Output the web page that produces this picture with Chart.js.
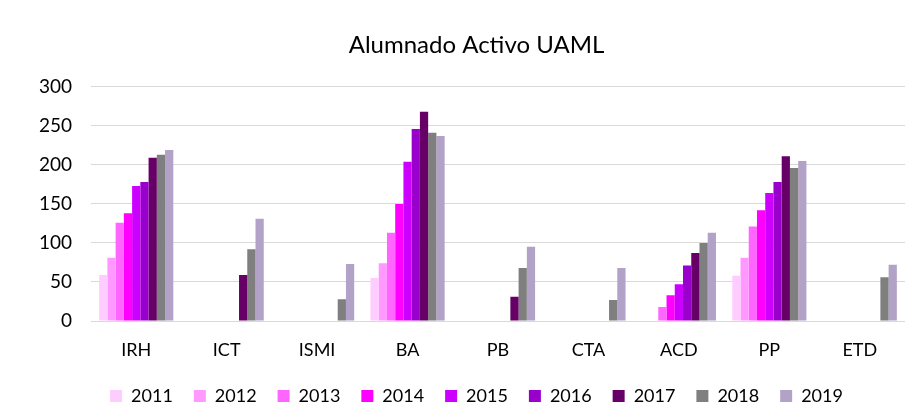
<!DOCTYPE html>
<html>
<head>
<meta charset="utf-8">
<script src="https://cdn.jsdelivr.net/npm/chart.js@4"></script>
<style>
  html, body { margin: 0; padding: 0; background: #fff; }
  #wrap { width: 905px; height: 408px; }
</style>
</head>
<body>
<div id="wrap"><canvas id="chart" width="905" height="408"></canvas></div>
<script>
// categories (programs) and years
var categories = ['IRH', 'ICT', 'ISMI', 'BA', 'PB', 'CTA', 'ACD', 'PP', 'ETD']
var years = ['2011', '2012', '2013', '2014', '2015', '2016', '2017', '2018', '2019']

// one array per year, values per category (null = no bar)
var y2011 = [59, null, null, 55, null, null, null, 58, null]
var y2012 = [81, null, null, 74, null, null, null, 81, null]
var y2013 = [126, null, null, 113, null, null, 18, 121, null]
var y2014 = [138, null, null, 150, null, null, 33, 142, null]
var y2015 = [173, null, null, 204, null, null, 47, 164, null]
var y2016 = [178, null, null, 246, null, null, 71, 178, null]
var y2017 = [209, 59, null, 268, 31, null, 87, 211, null]
var y2018 = [213, 92, 28, 241, 68, 27, 100, 196, 56]
var y2019 = [219, 131, 73, 237, 95, 68, 113, 205, 72]

var yTicks = [0, 50, 100, 150, 200, 250, 300]

var seriesValues = [y2011, y2012, y2013, y2014, y2015, y2016, y2017, y2018, y2019]
var colors = ['#ffccff', '#ff99ff', '#ff66ff', '#ff00ff', '#cc00ff', '#9900cc', '#660066', '#7f7f7f', '#b3a2c7']

var FONT = 'Lato, "DejaVu Sans", sans-serif'

var datasets = []
for (var i = 0; i < years.length; i++) {
    datasets.push({
        label: years[i],
        data: seriesValues[i],
        backgroundColor: colors[i],
        borderWidth: 0,
        categoryPercentage: 0.82,
        barPercentage: 1.0
    })
}

var ctx = document.getElementById('chart').getContext('2d')
new Chart(ctx, {
    type: 'bar',
    data: { labels: categories, datasets: datasets },
    options: {
        responsive: false,
        animation: false,
        // title and legend sit a bit right of the canvas centre in the original,
        // so the layout box runs past the right edge and an empty axis takes it back
        layout: { padding: { top: 0, right: -48, left: 0, bottom: -7 } },
        plugins: {
            title: {
                display: true,
                text: 'Alumnado Activo UAML',
                color: '#000',
                font: { family: FONT, size: 24, weight: 'normal' },
                padding: { top: 31, bottom: 27 }
            },
            legend: {
                position: 'bottom',
                labels: {
                    color: '#000',
                    font: { family: FONT, size: 18 },
                    boxWidth: 12,
                    boxHeight: 12,
                    padding: 21
                }
            },
            tooltip: { enabled: false }
        },
        scales: {
            x: {
                grid: { display: false, drawTicks: false },
                border: { color: '#d9d9d9' },
                afterFit: function(axis) { axis.height = 45 },
                ticks: { color: '#000', font: { family: FONT, size: 18 }, padding: 18 }
            },
            y: {
                min: 0,
                max: 300,
                afterBuildTicks: function(axis) {
                    axis.ticks = yTicks.map(function(v) { return { value: v } })
                },
                afterFit: function(axis) { axis.width = 91 },
                grid: { color: '#d9d9d9', drawTicks: false },
                border: { display: false },
                ticks: { color: '#000', font: { family: FONT, size: 19 }, padding: 19 }
            },
            yPad: {
                position: 'right',
                min: 0,
                max: 300,
                afterFit: function(axis) { axis.width = 48 },
                grid: { display: false, drawTicks: false },
                border: { display: false },
                ticks: { display: false }
            }
        }
    }
})
</script>
</body>
</html>
